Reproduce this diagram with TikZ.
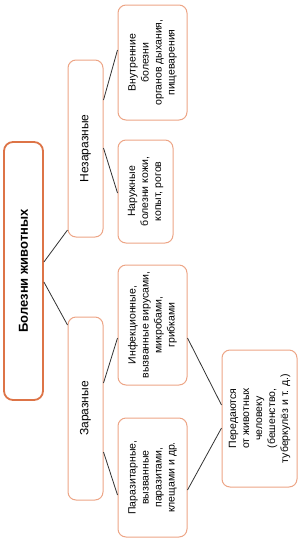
\documentclass[tikz,border=0pt]{standalone}
\usepackage{fontspec}
\setmainfont{Liberation Sans}
\definecolor{rootc}{HTML}{DD7447}
\definecolor{boxc}{HTML}{EDA586}
\definecolor{linec}{HTML}{333333}
\tikzset{
  rootbox/.style={draw=rootc, line width=1.8pt, rounded corners=9pt, fill=white, inner sep=0pt},
  cbox/.style={draw=boxc, line width=1pt, rounded corners=8pt, fill=white, inner sep=0pt},
  rtext/.style={rotate=90, align=center, inner sep=0pt, font=\fontsize{10.5}{13}\selectfont},
  conn/.style={draw=linec, line width=0.8pt}
}
\begin{document}
\begin{tikzpicture}[x=1pt, y=-1pt]
\useasboundingbox (0,0) rectangle (300,547);
% boxes
\node[rootbox, minimum width=39pt, minimum height=258pt] (root) at (23.5,271) {};
\node[cbox, minimum width=35pt, minimum height=177pt] (nez) at (85.5,148.5) {};
\node[cbox, minimum width=35pt, minimum height=183pt] (zar) at (85.5,408.5) {};
\node[cbox, minimum width=69pt, minimum height=115pt] (vnu) at (152.5,62.5) {};
\node[cbox, minimum width=55pt, minimum height=103pt] (nar) at (145.5,191.5) {};
\node[cbox, minimum width=69pt, minimum height=120pt] (inf) at (152.5,325) {};
\node[cbox, minimum width=69pt, minimum height=119pt] (par) at (152.5,477.5) {};
\node[cbox, minimum width=75pt, minimum height=137pt] (per) at (259.5,418.5) {};
% texts
\node[rtext, font=\fontsize{13}{15}\selectfont\bfseries] (rootT) at (root) {Болезни животных};
\node[rtext, font=\fontsize{12}{14}\selectfont] (nezT) at (nez) {Незаразные};
\node[rtext, font=\fontsize{12}{14}\selectfont] (zarT) at (zar) {Заразные};
\node[rtext] (vnuT) at (vnu) {Внутренние\\болезни\\органов дыхания,\\пищеварения};
\node[rtext] (narT) at (nar) {Наружные\\болезни кожи,\\копыт, рогов};
\node[rtext] (infT) at (inf) {Инфекционные,\\вызванные вирусами,\\микробами,\\грибками};
\node[rtext] (parT) at (par) {Паразитарные,\\вызванные\\паразитами,\\клещами и др.};
\node[rtext] (perT) at (per) {Передаются\\от животных\\человеку\\(бешенство,\\туберкулёз и т. д.)};
% connectors
\draw[conn] (root.east |- 0,262) -- (nez.west |- 0,230);
\draw[conn] (root.east |- 0,282) -- (zar.west |- 0,325);
\draw[conn] (nez.east |- 0,100) -- (vnu.west |- 0,50);
\draw[conn] (nez.east |- 0,148) -- (nar.west |- 0,193);
\draw[conn] (zar.east |- 0,383) -- (inf.west |- 0,338);
\draw[conn] (zar.east |- 0,452) -- (par.west |- 0,495);
\draw[conn] (inf.east |- 0,338) -- (per.west |- 0,405);
\draw[conn] (par.east |- 0,490) -- (per.west |- 0,428);
\end{tikzpicture}
\end{document}
